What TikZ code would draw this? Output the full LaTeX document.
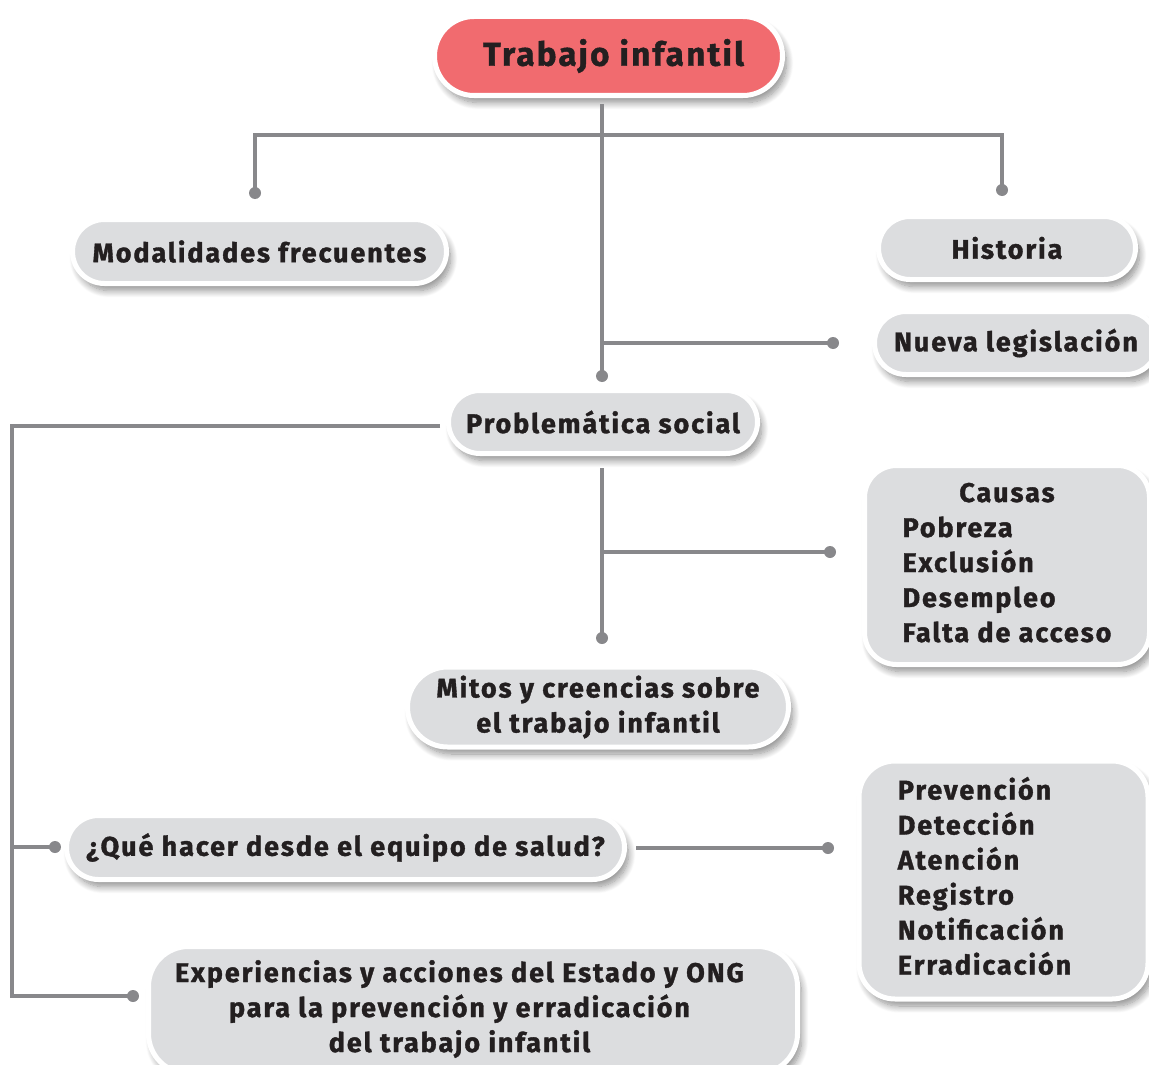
\documentclass[tikz,border=0pt]{standalone}
\usepackage{fontspec}
\setmainfont{Fira Sans}[LetterSpace=7, BoldFeatures={FakeBold=1.3}]
\usetikzlibrary{shapes.misc,shadows.blur}
\definecolor{boxgray}{HTML}{DCDDDF}
\definecolor{pinkred}{HTML}{F16B6F}
\definecolor{linegray}{HTML}{88888B}
\definecolor{ink}{HTML}{231F20}
\tikzset{
  box/.style={fill=boxgray, draw=white, line width=5pt, text=ink,
    font=\fontsize{27}{35}\selectfont\bfseries, inner sep=0pt,
    blur shadow={shadow xshift=4pt, shadow yshift=-7pt, shadow blur radius=7pt,
      shadow blur steps=12, shadow opacity=45}},
  pill/.style={box, rounded rectangle},
  rbox/.style={box, rectangle, rounded corners=32pt},
  conn/.style={draw=linegray, line width=3.6pt},
  dot/.style={circle, fill=linegray, inner sep=0pt, minimum size=12pt},
}
\begin{document}
\begin{tikzpicture}[x=1pt,y=-1pt]
\useasboundingbox (0,0) rectangle (1149,1065);
\clip (0,0) rectangle (1149,1065);
% boxes
\node[pill, fill=pinkred, minimum width=348pt, minimum height=79pt,
  font=\fontsize{33}{40}\selectfont\bfseries] (top) at (608.5,56) {\hspace{10pt}Trabajo infantil};
\node[pill, minimum width=374pt, minimum height=64pt] (mod) at (259.5,251.5) {Modalidades frecuentes};
\node[pill, minimum width=257pt, minimum height=63pt] (his) at (1007,248) {Historia};
\node[pill, minimum width=283pt, minimum height=63pt] (nue) at (1016,343) {Nueva legislación};
\node[pill, minimum width=309pt, minimum height=63pt] (pro) at (603,422) {Problemática social};
\node[rbox, minimum width=285pt, minimum height=199pt] (cau) at (1007,565)
  {\begin{tabular}{@{}l@{}}\multicolumn{1}{@{}c@{}}{Causas}\\Pobreza\\Exclusión\\Desempleo\\Falta de acceso\end{tabular}};
\node[pill, minimum width=381pt, minimum height=80pt, align=center] (mit) at (598,707)
  {Mitos y creencias sobre\\el trabajo infantil};
\node[pill, minimum width=558pt, minimum height=64pt] (que) at (345.5,847.5) {¿Qué hacer desde el equipo de salud?};
\node[rbox, rounded corners=36pt, minimum width=289pt, minimum height=238pt] (acc) at (1003.5,880)
  {\begin{tabular}{@{}l@{}}Prevención\\Detección\\Atención\\Registro\\Notificación\\Erradicación\end{tabular}\rule{38pt}{0pt}};
\node[rbox, rounded corners=40pt, minimum width=649pt, minimum height=127pt] (exp) at (473,1010)
  {\begin{tabular}{@{}c@{}}Experiencias y acciones del Estado y ONG\\para la prevención y erradicación\\del trabajo infantil\end{tabular}\rule{27pt}{0pt}};
% dots
\node[dot] (dtop) at (602,376) {};
\node[dot] (dmod) at (255,193) {};
\node[dot] (dhis) at (1002,190) {};
\node[dot] (dnue) at (833,343) {};
\node[dot] (dque) at (55,847) {};
\node[dot] (dexp) at (133,996) {};
\node[dot] (dmit) at (602,638) {};
\node[dot] (dcau) at (830,552) {};
\node[dot] (dacc) at (828,848) {};
% junction coordinates
\coordinate (s0) at (602,104);
\coordinate (jl) at (255,135);
\coordinate (jr) at (1002,135);
\coordinate (jn) at (602,343);
\coordinate (pl) at (440,426);
\coordinate (cl1) at (12,426);
\coordinate (cl2) at (12,996);
\coordinate (cq) at (12,847);
\coordinate (ps) at (602,468);
\coordinate (jc) at (602,552);
\coordinate (qr) at (636,848);
% connectors
\draw[conn] (s0) -- (dtop.center);
\draw[conn] (dmod.center) -- (jl) -- (jr) -- (dhis.center);
\draw[conn] (jn) -- (dnue.center);
\draw[conn] (pl) -- (cl1) -- (cl2) -- (dexp.center);
\draw[conn] (cq) -- (dque.center);
\draw[conn] (ps) -- (dmit.center);
\draw[conn] (jc) -- (dcau.center);
\draw[conn] (qr) -- (dacc.center);
\end{tikzpicture}
\end{document}
